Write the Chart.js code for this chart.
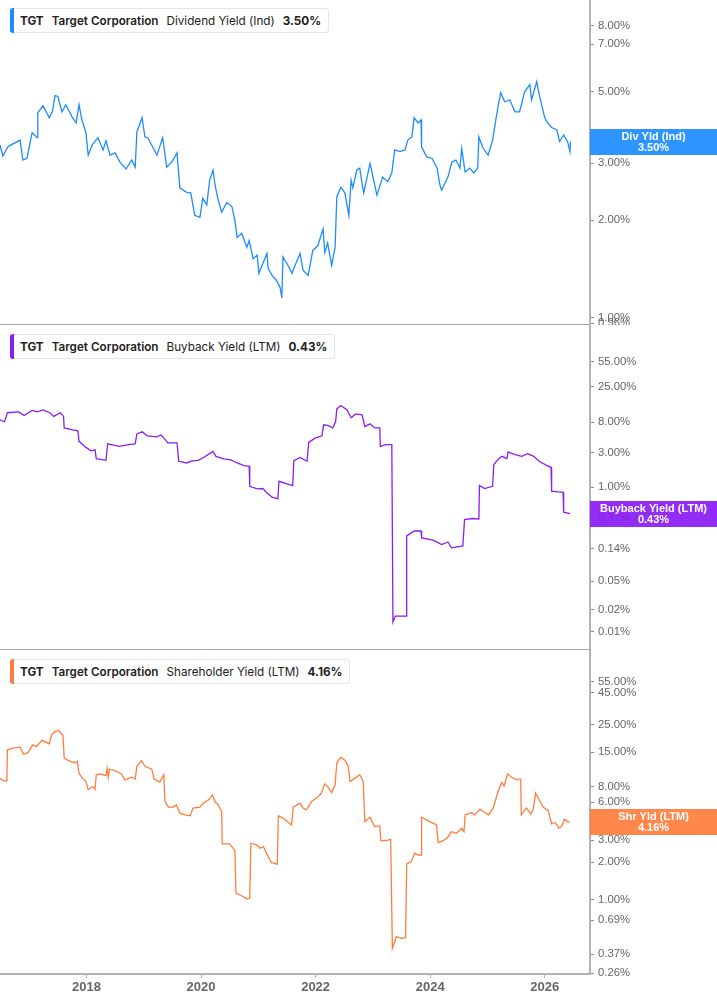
<!DOCTYPE html>
<html>
<head>
<meta charset="utf-8">
<script src="https://cdn.jsdelivr.net/npm/chart.js@4.4.1/dist/chart.umd.min.js"></script>
<style>
  html, body { margin: 0; padding: 0; background: #fff; }
  body { width: 717px; height: 1005px; position: relative; overflow: hidden; }
  .panel { position: absolute; left: 0; width: 717px; }
  .legend {
    position: absolute; left: 10px; height: 25px; box-sizing: border-box;
    border: 1px solid #e4e4e4; border-left: none; border-radius: 4px; background: #fff;
    display: flex; align-items: center; padding: 0 7px 0 10px;
    font-family: Inter, "Noto Sans", sans-serif; font-size: 11.7px; color: #222; white-space: nowrap;
  }
  .legend .bar { position: absolute; left: 0; top: -1px; bottom: -1px; width: 4px; border-radius: 3px 0 0 3px; }
  .legend span { margin-right: 8px; }
  .legend span:last-child { margin-right: 0; }
  .b { font-weight: 700; }
  .sb { font-weight: 600; }
</style>
</head>
<body>
<div class="panel" style="top:0;height:325px"><canvas id="divChart"></canvas></div>
<div class="panel" style="top:325px;height:325px"><canvas id="buyChart"></canvas></div>
<div class="panel" style="top:650px;height:355px"><canvas id="shrChart"></canvas></div>

<div class="legend" style="top:8px"><div class="bar" style="background:#1e8cff"></div>
  <span class="b">TGT</span><span class="sb">Target Corporation</span><span>Dividend Yield (Ind)</span><span class="b">3.50%</span></div>
<div class="legend" style="top:334px"><div class="bar" style="background:#8b1df5"></div>
  <span class="b">TGT</span><span class="sb">Target Corporation</span><span>Buyback Yield (LTM)</span><span class="b">0.43%</span></div>
<div class="legend" style="top:659px"><div class="bar" style="background:#ff7e3e"></div>
  <span class="b">TGT</span><span class="sb">Target Corporation</span><span>Shareholder Yield (LTM)</span><span class="b">4.16%</span></div>

<script>
// dividend yield (Ind), % - x as decimal year
let divYears = [
  2016.49, 2016.54, 2016.63, 2016.84, 2016.89, 2016.96, 2017.05, 2017.14, 2017.15, 2017.24,
  2017.35, 2017.41, 2017.45, 2017.50, 2017.57, 2017.64, 2017.75, 2017.82, 2017.87, 2017.92,
  2017.99, 2018.03, 2018.10, 2018.20, 2018.29, 2018.34, 2018.41, 2018.50, 2018.58, 2018.69,
  2018.79, 2018.85, 2018.88, 2018.97, 2019.02, 2019.07, 2019.23, 2019.33, 2019.40, 2019.49,
  2019.58, 2019.63, 2019.75, 2019.82, 2019.89, 2019.98, 2020.03, 2020.10, 2020.15, 2020.21,
  2020.24, 2020.29, 2020.36, 2020.45, 2020.54, 2020.59, 2020.63, 2020.71, 2020.80, 2020.84,
  2020.91, 2020.98, 2021.01, 2021.08, 2021.15, 2021.17, 2021.24, 2021.32, 2021.38, 2021.41,
  2021.43, 2021.50, 2021.59, 2021.64, 2021.73, 2021.78, 2021.87, 2021.95, 2022.04, 2022.13,
  2022.16, 2022.21, 2022.28, 2022.34, 2022.37, 2022.44, 2022.51, 2022.58, 2022.62, 2022.65,
  2022.72, 2022.77, 2022.81, 2022.84, 2022.95, 2023.07, 2023.17, 2023.26, 2023.33, 2023.38,
  2023.47, 2023.56, 2023.61, 2023.68, 2023.72, 2023.79, 2023.84, 2023.85, 2023.94, 2024.03,
  2024.12, 2024.17, 2024.20, 2024.31, 2024.38, 2024.45, 2024.52, 2024.55, 2024.61, 2024.69,
  2024.76, 2024.83, 2024.85, 2024.92, 2025.01, 2025.09, 2025.16, 2025.23, 2025.30, 2025.39,
  2025.48, 2025.56, 2025.65, 2025.74, 2025.77, 2025.86, 2025.91, 2026.00, 2026.05, 2026.12,
  2026.21, 2026.26, 2026.33, 2026.40, 2026.44, 2026.45,
];
let divValues = [
  3.42, 3.16, 3.38, 3.54, 3.07, 3.11, 3.73, 3.60, 4.30, 4.52,
  4.15, 4.37, 4.86, 4.83, 4.33, 4.55, 4.17, 4.00, 4.55, 4.09,
  3.73, 3.18, 3.42, 3.60, 3.30, 3.52, 3.18, 3.23, 3.03, 2.88,
  3.07, 2.92, 3.75, 4.15, 3.62, 3.60, 3.18, 3.60, 2.92, 3.03,
  3.23, 2.52, 2.44, 2.43, 2.07, 2.04, 2.34, 2.23, 2.66, 2.86,
  2.60, 2.34, 2.12, 2.27, 2.20, 2.00, 1.77, 1.82, 1.65, 1.73,
  1.52, 1.56, 1.37, 1.47, 1.58, 1.42, 1.35, 1.30, 1.24, 1.15,
  1.54, 1.47, 1.37, 1.45, 1.58, 1.40, 1.35, 1.61, 1.67, 1.88,
  1.59, 1.70, 1.45, 1.65, 2.36, 2.53, 2.43, 2.07, 2.66, 2.52,
  2.86, 2.90, 2.60, 2.43, 3.00, 2.39, 2.72, 2.63, 2.80, 3.30,
  3.26, 3.30, 3.54, 3.62, 4.15, 4.00, 4.09, 3.37, 3.14, 3.11,
  2.90, 2.57, 2.48, 2.72, 3.03, 3.07, 2.90, 3.33, 2.82, 2.90,
  2.80, 2.90, 3.62, 3.35, 3.18, 3.54, 4.24, 4.96, 4.65, 4.71,
  4.33, 4.33, 5.00, 5.26, 4.71, 5.37, 4.83, 4.15, 4.00, 3.87,
  3.81, 3.50, 3.67, 3.50, 3.26, 3.50,
];

// buyback yield (LTM), %
let buyYears = [
  2016.49, 2016.57, 2016.62, 2016.82, 2016.91, 2017.05, 2017.14, 2017.24, 2017.36, 2017.43,
  2017.54, 2017.60, 2017.61, 2017.76, 2017.85, 2017.87, 2017.99, 2018.08, 2018.15, 2018.17,
  2018.34, 2018.37, 2018.57, 2018.74, 2018.85, 2018.88, 2018.97, 2019.06, 2019.23, 2019.30,
  2019.35, 2019.42, 2019.58, 2019.61, 2019.75, 2019.84, 2019.95, 2020.05, 2020.14, 2020.21,
  2020.26, 2020.40, 2020.52, 2020.63, 2020.75, 2020.84, 2020.85, 2020.98, 2021.08, 2021.15,
  2021.24, 2021.34, 2021.36, 2021.50, 2021.60, 2021.62, 2021.73, 2021.85, 2021.88, 2021.99,
  2022.11, 2022.14, 2022.21, 2022.30, 2022.35, 2022.37, 2022.44, 2022.55, 2022.62, 2022.70,
  2022.81, 2022.86, 2022.95, 2023.03, 2023.12, 2023.13, 2023.23, 2023.33, 2023.35, 2023.39,
  2023.58, 2023.59, 2023.72, 2023.84, 2023.85, 2024.05, 2024.20, 2024.31, 2024.37, 2024.57,
  2024.60, 2024.73, 2024.85, 2024.86, 2024.95, 2025.09, 2025.11, 2025.18, 2025.25, 2025.34,
  2025.36, 2025.48, 2025.60, 2025.70, 2025.81, 2025.90, 2026.04, 2026.11, 2026.12, 2026.23,
  2026.32, 2026.33, 2026.44,
];
let buyValues = [
  8.6, 8.1, 10.8, 11.1, 9.9, 11.6, 11.1, 11.8, 10.8, 9.6,
  10.8, 9.6, 6.66, 6.25, 6.05, 4.33, 3.57, 3.19, 3.30, 2.49,
  2.36, 4.00, 3.69, 3.90, 4.00, 5.50, 5.87, 5.17, 5.00, 5.30,
  4.84, 4.13, 4.13, 2.29, 2.17, 2.32, 2.36, 2.60, 2.90, 3.14,
  2.68, 2.47, 2.39, 2.17, 1.99, 1.95, 1.03, 0.95, 0.96, 0.83,
  0.73, 0.69, 1.21, 1.11, 1.05, 2.33, 2.59, 2.29, 4.19, 4.80,
  5.17, 7.34, 7.20, 6.66, 8.20, 12.2, 13.6, 11.8, 9.2, 10.4,
  10.1, 6.96, 7.58, 6.66, 6.66, 3.69, 3.90, 3.90, 0.0135, 0.0163,
  0.0163, 0.211, 0.247, 0.247, 0.198, 0.185, 0.160, 0.174, 0.144, 0.153,
  0.356, 0.368, 0.363, 1.06, 0.96, 1.03, 2.05, 2.41, 2.68, 2.49,
  3.09, 2.83, 2.68, 2.92, 2.68, 2.29, 1.99, 1.89, 0.88, 0.86,
  0.85, 0.45, 0.43,
];

// shareholder yield (LTM), %
let shrYears = [
  2016.49, 2016.55, 2016.61, 2016.62, 2016.72, 2016.84, 2016.90, 2016.98, 2017.06, 2017.13,
  2017.22, 2017.30, 2017.35, 2017.39, 2017.45, 2017.51, 2017.59, 2017.61, 2017.71, 2017.80,
  2017.84, 2017.87, 2017.93, 2017.99, 2018.03, 2018.11, 2018.15, 2018.17, 2018.24, 2018.34,
  2018.36, 2018.38, 2018.40, 2018.50, 2018.61, 2018.67, 2018.79, 2018.85, 2018.88, 2018.96,
  2019.02, 2019.14, 2019.18, 2019.28, 2019.35, 2019.37, 2019.43, 2019.51, 2019.57, 2019.63,
  2019.72, 2019.81, 2019.86, 2019.98, 2020.04, 2020.13, 2020.20, 2020.24, 2020.30, 2020.36,
  2020.37, 2020.50, 2020.59, 2020.61, 2020.71, 2020.80, 2020.85, 2020.87, 2020.97, 2021.03,
  2021.09, 2021.14, 2021.23, 2021.33, 2021.35, 2021.43, 2021.58, 2021.61, 2021.73, 2021.78,
  2021.84, 2021.93, 2022.05, 2022.10, 2022.16, 2022.21, 2022.28, 2022.34, 2022.37, 2022.44,
  2022.51, 2022.57, 2022.60, 2022.69, 2022.77, 2022.83, 2022.86, 2022.95, 2023.03, 2023.12,
  2023.14, 2023.24, 2023.31, 2023.34, 2023.41, 2023.50, 2023.57, 2023.59, 2023.67, 2023.73,
  2023.79, 2023.84, 2023.85, 2023.96, 2024.11, 2024.14, 2024.23, 2024.31, 2024.37, 2024.46,
  2024.55, 2024.59, 2024.61, 2024.72, 2024.78, 2024.87, 2024.95, 2025.02, 2025.10, 2025.19,
  2025.25, 2025.29, 2025.35, 2025.42, 2025.51, 2025.58, 2025.59, 2025.68, 2025.76, 2025.80,
  2025.84, 2025.91, 2025.97, 2026.06, 2026.12, 2026.18, 2026.25, 2026.30, 2026.34, 2026.40,
  2026.44,
];
let shrValues = [
  9.34, 8.89, 8.89, 15.7, 16.2, 16.5, 14.5, 14.9, 17.2, 16.7,
  18.7, 18.0, 17.5, 20.7, 22.0, 22.4, 20.4, 13.5, 12.7, 12.4,
  12.7, 10.2, 9.34, 8.8, 7.54, 8.0, 7.63, 9.93, 10.1, 9.76,
  11.2, 9.5, 11.0, 10.7, 10.1, 9.05, 9.5, 9.2, 11.6, 12.9,
  11.6, 11.0, 9.2, 8.7, 9.93, 6.08, 5.49, 5.49, 5.72, 4.91,
  4.76, 4.68, 5.39, 5.49, 5.91, 6.27, 6.87, 6.08, 5.72, 5.06,
  2.80, 2.80, 2.47, 1.13, 1.08, 1.02, 1.03, 2.83, 2.75, 2.58,
  2.66, 2.36, 1.98, 1.93, 4.68, 4.49, 3.96, 5.49, 5.91, 5.39,
  5.22, 6.08, 6.67, 7.10, 8.42, 8.00, 7.17, 8.27, 12.4, 13.7,
  13.0, 11.6, 8.8, 9.34, 9.93, 8.8, 4.21, 4.56, 3.84, 3.89,
  2.97, 2.97, 3.05, 0.412, 0.51, 0.495, 0.50, 1.94, 2.02, 2.36,
  2.28, 2.28, 4.56, 4.29, 3.96, 2.86, 2.97, 3.16, 3.50, 3.40,
  3.73, 3.50, 4.76, 4.97, 4.76, 5.28, 4.97, 4.76, 5.39, 7.44,
  8.6, 8.1, 10.1, 9.5, 9.05, 9.2, 4.76, 5.39, 4.84, 5.28,
  7.10, 6.19, 5.49, 5.16, 4.04, 4.14, 3.73, 3.89, 4.40, 4.21,
  4.16,
];

// axis tick labels
let yearTicks = [2018, 2020, 2022, 2024, 2026];
let divTicks = [0.96, 1, 2, 3, 5, 7, 8];
let buyTicks = [0.01, 0.02, 0.05, 0.14, 0.37, 1, 3, 8, 25, 55];
let shrTicks = [0.26, 0.37, 0.69, 1, 2, 3, 6, 8, 15, 25, 45, 55];

const X_MIN = 2016.49;
const X_MAX = 2026.79;
const AXIS_GRAY = "#b3b3b3";
const LABEL_GRAY = "#666666";

const makeBadge = (color, title, valueText) => ({
  id: "badge",
  afterDraw(chart) {
    const ds = chart.data.datasets[0].data;
    const last = ds[ds.length - 1].y;
    const y = chart.scales.y.getPixelForValue(last);
    const x0 = chart.chartArea.right;
    const ctx = chart.ctx;
    ctx.save();
    ctx.globalAlpha = 0.93;
    ctx.fillStyle = color;
    ctx.fillRect(x0, Math.round(y - 13), chart.width - x0, 26);
    ctx.globalAlpha = 1;
    ctx.fillStyle = "#fff";
    ctx.font = "bold 11px 'Liberation Sans', Arial, sans-serif";
    ctx.textAlign = "center";
    ctx.textBaseline = "middle";
    const cx = x0 + (chart.width - x0) / 2;
    ctx.fillText(title, cx, y - 5);
    ctx.fillText(valueText, cx, y + 6);
    ctx.restore();
  },
});

const refreshChart = (canvasID, years, values, color, yMin, yMax, yTicks, badge, showYears) => {
  const points = years.map((yr, i) => ({ x: yr, y: values[i] }));
  new Chart(document.getElementById(canvasID), {
    type: "line",
    data: {
      datasets: [
        {
          data: points,
          borderColor: color,
          borderWidth: 1.3,
          pointRadius: 0,
          tension: 0,
          fill: false,
        },
      ],
    },
    options: {
      responsive: true,
      maintainAspectRatio: false,
      animation: false,
      layout: { padding: 0 },
      plugins: { legend: { display: false }, tooltip: { enabled: false } },
      scales: {
        x: {
          type: "linear",
          min: X_MIN,
          max: X_MAX,
          afterBuildTicks: (axis) => {
            axis.ticks = yearTicks.map((v) => ({ value: v }));
          },
          afterFit: (axis) => {
            axis.height = showYears ? 31 : 1;
            axis.paddingLeft = 0;
            axis.paddingRight = 0;
          },
          ticks: {
            display: showYears,
            autoSkip: false,
            maxRotation: 0,
            padding: 2,
            color: LABEL_GRAY,
            font: { family: "'Liberation Sans', Arial, sans-serif", size: 13, weight: "bold" },
            callback: (v) => String(v),
          },
          grid: {
            display: showYears,
            drawOnChartArea: false,
            tickLength: 4,
            color: AXIS_GRAY,
          },
          border: { display: true, color: showYears ? AXIS_GRAY : "#a8a8a8", width: showYears ? 2 : 1 },
        },
        y: {
          type: "logarithmic",
          position: "right",
          min: yMin,
          max: yMax,
          afterBuildTicks: (axis) => {
            axis.ticks = yTicks.map((v) => ({ value: v }));
          },
          afterFit: (axis) => {
            // labels sit inside the range, so no extra room above/below
            axis.width = 127;
            axis.paddingTop = 0;
            axis.paddingBottom = 0;
          },
          ticks: {
            autoSkip: false,
            padding: 4,
            color: LABEL_GRAY,
            font: { family: "'Liberation Sans', Arial, sans-serif", size: 11.3 },
            callback: (v) => Number(v).toFixed(2) + "%",
          },
          grid: {
            drawOnChartArea: false,
            tickLength: 4,
            color: "#888",
          },
          border: { display: true, color: AXIS_GRAY, width: 2 },
        },
      },
    },
    plugins: [badge],
  });
};

refreshChart("divChart", divYears, divValues, "#1e8cff", 0.955, 9.6, divTicks,
  makeBadge("#1e8cff", "Div Yld (Ind)", "3.50%"), false);
refreshChart("buyChart", buyYears, buyValues, "#8b1df5", 0.0057, 178, buyTicks,
  makeBadge("#8b1df5", "Buyback Yield (LTM)", "0.43%"), false);
refreshChart("shrChart", shrYears, shrValues, "#ff7e3e", 0.257, 98, shrTicks,
  makeBadge("#ff7e3e", "Shr Yld (LTM)", "4.16%"), true);
</script>
</body>
</html>
